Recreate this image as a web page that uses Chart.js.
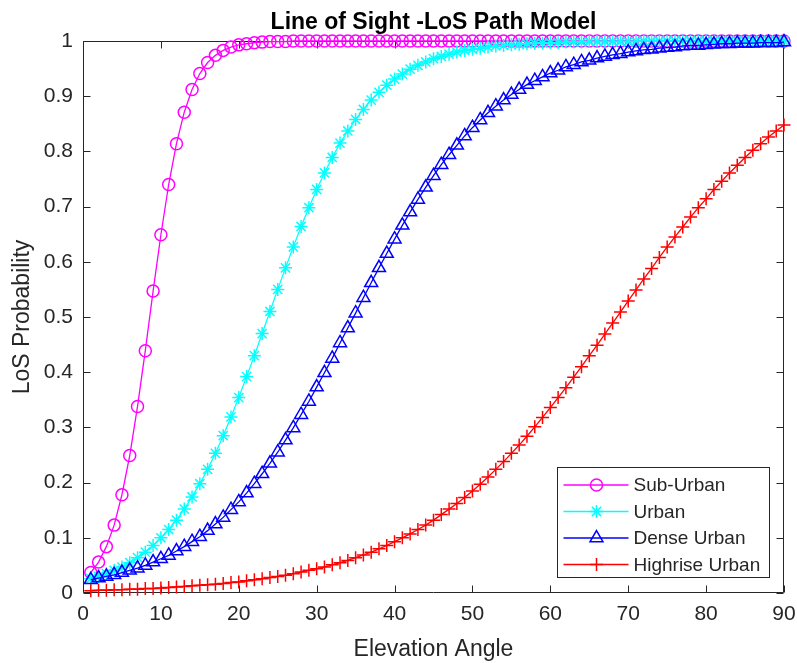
<!DOCTYPE html>
<html>
<head>
<meta charset="utf-8">
<title>Line of Sight -LoS Path Model</title>
<script src="https://cdn.jsdelivr.net/npm/chart.js@4/dist/chart.umd.min.js"></script>
<style>
  html, body { margin: 0; padding: 0; background: #ffffff; }
  canvas { display: block; }
</style>
</head>
<body>
<canvas id="chart" width="797" height="663"></canvas>
<script>
// Elevation angles in degrees
const angles = [
  1, 2, 3, 4, 5, 6, 7, 8, 9, 10, 11, 12, 13, 14, 15, 16, 17, 18, 19, 20,
  21, 22, 23, 24, 25, 26, 27, 28, 29, 30, 31, 32, 33, 34, 35, 36, 37, 38, 39, 40,
  41, 42, 43, 44, 45, 46, 47, 48, 49, 50, 51, 52, 53, 54, 55, 56, 57, 58, 59, 60,
  61, 62, 63, 64, 65, 66, 67, 68, 69, 70, 71, 72, 73, 74, 75, 76, 77, 78, 79, 80,
  81, 82, 83, 84, 85, 86, 87, 88, 89, 90
];

// LoS probability per environment
const subUrban = [
  0.037, 0.056, 0.084, 0.123, 0.178, 0.249, 0.338, 0.439, 0.547, 0.649,
  0.740, 0.814, 0.871, 0.912, 0.941, 0.961, 0.974, 0.983, 0.989, 0.993,
  0.995, 0.997, 0.998, 0.999, 0.999, 0.999, 1.000, 1.000, 1.000, 1.000,
  1.000, 1.000, 1.000, 1.000, 1.000, 1.000, 1.000, 1.000, 1.000, 1.000,
  1.000, 1.000, 1.000, 1.000, 1.000, 1.000, 1.000, 1.000, 1.000, 1.000,
  1.000, 1.000, 1.000, 1.000, 1.000, 1.000, 1.000, 1.000, 1.000, 1.000,
  1.000, 1.000, 1.000, 1.000, 1.000, 1.000, 1.000, 1.000, 1.000, 1.000,
  1.000, 1.000, 1.000, 1.000, 1.000, 1.000, 1.000, 1.000, 1.000, 1.000,
  1.000, 1.000, 1.000, 1.000, 1.000, 1.000, 1.000, 1.000, 1.000, 1.000
];

const urban = [
  0.026, 0.030, 0.035, 0.041, 0.047, 0.055, 0.064, 0.074, 0.086, 0.100,
  0.115, 0.132, 0.152, 0.174, 0.198, 0.224, 0.253, 0.285, 0.319, 0.354,
  0.392, 0.430, 0.470, 0.510, 0.550, 0.589, 0.627, 0.664, 0.698, 0.731,
  0.761, 0.789, 0.815, 0.837, 0.858, 0.876, 0.893, 0.907, 0.920, 0.931,
  0.940, 0.949, 0.956, 0.962, 0.968, 0.972, 0.976, 0.980, 0.983, 0.985,
  0.987, 0.989, 0.991, 0.992, 0.993, 0.994, 0.995, 0.996, 0.996, 0.997,
  0.997, 0.998, 0.998, 0.998, 0.999, 0.999, 0.999, 0.999, 0.999, 0.999,
  0.999, 1.000, 1.000, 1.000, 1.000, 1.000, 1.000, 1.000, 1.000, 1.000,
  1.000, 1.000, 1.000, 1.000, 1.000, 1.000, 1.000, 1.000, 1.000, 1.000
];

const denseUrban = [
  0.024, 0.027, 0.030, 0.033, 0.037, 0.041, 0.045, 0.050, 0.056, 0.062,
  0.068, 0.076, 0.084, 0.093, 0.102, 0.113, 0.125, 0.137, 0.151, 0.165,
  0.181, 0.198, 0.216, 0.235, 0.255, 0.277, 0.299, 0.323, 0.347, 0.373,
  0.399, 0.425, 0.453, 0.480, 0.507, 0.535, 0.562, 0.589, 0.615, 0.641,
  0.666, 0.690, 0.713, 0.735, 0.756, 0.776, 0.794, 0.811, 0.828, 0.843,
  0.857, 0.870, 0.882, 0.893, 0.903, 0.912, 0.921, 0.928, 0.935, 0.942,
  0.947, 0.953, 0.957, 0.962, 0.965, 0.969, 0.972, 0.975, 0.977, 0.980,
  0.982, 0.984, 0.985, 0.987, 0.988, 0.989, 0.991, 0.992, 0.992, 0.993,
  0.994, 0.995, 0.995, 0.996, 0.996, 0.996, 0.997, 0.997, 0.997, 0.998
];

const highriseUrban = [
  0.004, 0.005, 0.005, 0.006, 0.006, 0.007, 0.007, 0.008, 0.008, 0.009,
  0.010, 0.011, 0.012, 0.013, 0.014, 0.015, 0.016, 0.017, 0.019, 0.020,
  0.022, 0.024, 0.026, 0.028, 0.030, 0.032, 0.035, 0.038, 0.041, 0.044,
  0.047, 0.051, 0.055, 0.059, 0.064, 0.069, 0.074, 0.080, 0.086, 0.093,
  0.100, 0.107, 0.115, 0.123, 0.132, 0.142, 0.152, 0.162, 0.173, 0.185,
  0.197, 0.210, 0.224, 0.238, 0.253, 0.268, 0.284, 0.301, 0.318, 0.336,
  0.354, 0.372, 0.391, 0.410, 0.430, 0.449, 0.469, 0.489, 0.509, 0.529,
  0.549, 0.569, 0.588, 0.608, 0.627, 0.645, 0.663, 0.681, 0.698, 0.714,
  0.731, 0.746, 0.761, 0.775, 0.789, 0.802, 0.814, 0.826, 0.837, 0.848
];

const seriesNames = ['Sub-Urban', 'Urban', 'Dense Urban', 'Highrise Urban'];
const xTickValues = [0, 10, 20, 30, 40, 50, 60, 70, 80, 90];
const yTickValues = [0, 0.1, 0.2, 0.3, 0.4, 0.5, 0.6, 0.7, 0.8, 0.9, 1];

const FONT = '"Liberation Sans", Arial, Helvetica, sans-serif';
const AXIS_COLOR = '#262626';

const styles = [
  { color: '#ff00ff', pointStyle: 'circle',   radius: 6 },
  { color: '#00ffff', pointStyle: 'star',     radius: 6.5 },
  { color: '#0000ff', pointStyle: 'triangle', radius: 7.5 },
  { color: '#ff0000', pointStyle: 'cross',    radius: 6.5 }
];

const seriesValues = [subUrban, urban, denseUrban, highriseUrban];

const datasets = seriesValues.map((values, i) => ({
  label: seriesNames[i],
  data: angles.map((a, j) => ({ x: a, y: values[j] })),
  borderColor: styles[i].color,
  backgroundColor: 'rgba(0,0,0,0)',
  borderWidth: 1.3,
  pointStyle: styles[i].pointStyle,
  pointRadius: styles[i].radius,
  pointHoverRadius: styles[i].radius,
  pointBorderWidth: 1.5,
  pointBorderColor: styles[i].color,
  pointBackgroundColor: 'rgba(0,0,0,0)',
  tension: 0,
  clip: false,
  order: seriesValues.length - 1 - i
}));

// Box around the axes with inward tick marks on all four sides
const axesFrame = {
  id: 'axesFrame',
  beforeDatasetsDraw(chart) {
    const { ctx, chartArea: a, scales } = chart;
    const L = Math.round(a.left) + 0.5, R = Math.round(a.right) - 0.5;
    const T = Math.round(a.top) + 0.5, B = Math.round(a.bottom) - 0.5;
    const len = 7;
    ctx.save();
    ctx.strokeStyle = AXIS_COLOR;
    ctx.lineWidth = 1;
    ctx.beginPath();
    ctx.rect(L, T, R - L, B - T);
    xTickValues.forEach(v => {
      const px = Math.round(scales.x.getPixelForValue(v)) + 0.5;
      ctx.moveTo(px, B); ctx.lineTo(px, B - len);
      ctx.moveTo(px, T); ctx.lineTo(px, T + len);
    });
    yTickValues.forEach(v => {
      const py = Math.round(scales.y.getPixelForValue(v)) + 0.5;
      ctx.moveTo(L, py); ctx.lineTo(L + len, py);
      ctx.moveTo(R, py); ctx.lineTo(R - len, py);
    });
    ctx.stroke();
    ctx.restore();
  }
};

// Bold title centred over the plotting area
const plotTitle = {
  id: 'plotTitle',
  afterDraw(chart) {
    const { ctx, chartArea: a } = chart;
    ctx.save();
    ctx.fillStyle = '#000000';
    ctx.font = 'bold 23px ' + FONT;
    ctx.textAlign = 'center';
    ctx.textBaseline = 'alphabetic';
    ctx.fillText('Line of Sight -LoS Path Model', (a.left + a.right) / 2, 28.5);
    ctx.restore();
  }
};

// Boxed legend in the lower-right corner of the axes
const boxedLegend = {
  id: 'boxedLegend',
  afterDraw(chart) {
    const { ctx, chartArea: a } = chart;
    const boxW = 212, boxH = 110;
    const x0 = Math.round(a.right - 15 - boxW) + 0.5;
    const y0 = Math.round(a.bottom - 16 - boxH) + 0.5;
    ctx.save();
    ctx.fillStyle = '#ffffff';
    ctx.strokeStyle = AXIS_COLOR;
    ctx.lineWidth = 1;
    ctx.fillRect(x0, y0, boxW, boxH);
    ctx.strokeRect(x0, y0, boxW, boxH);
    chart.data.datasets.forEach((ds, i) => {
      const y = y0 + 17.5 + i * 26.5;
      const lx0 = x0 + 6, lx1 = x0 + 71, mx = x0 + 39;
      ctx.strokeStyle = ds.borderColor;
      ctx.lineWidth = ds.borderWidth;
      ctx.beginPath();
      ctx.moveTo(lx0, y); ctx.lineTo(lx1, y);
      ctx.stroke();
      ctx.fillStyle = 'rgba(0,0,0,0)';
      ctx.strokeStyle = ds.pointBorderColor;
      ctx.lineWidth = ds.pointBorderWidth;
      Chart.helpers.drawPoint(ctx, {
        pointStyle: ds.pointStyle, radius: ds.pointRadius, rotation: 0, borderWidth: ds.pointBorderWidth
      }, mx, y);
      ctx.fillStyle = AXIS_COLOR;
      ctx.font = '19px ' + FONT;
      ctx.textAlign = 'left';
      ctx.textBaseline = 'middle';
      ctx.fillText(ds.label, x0 + 76, y + 1);
    });
    ctx.restore();
  }
};

new Chart(document.getElementById('chart'), {
  type: 'line',
  data: { datasets },
  plugins: [axesFrame, plotTitle, boxedLegend],
  options: {
    responsive: false,
    animation: false,
    devicePixelRatio: 1,
    layout: { padding: { left: 0, top: 41, right: 13, bottom: 0 } },
    plugins: {
      legend: { display: false },
      title: { display: false },
      tooltip: { enabled: false }
    },
    scales: {
      x: {
        type: 'linear',
        min: 0,
        max: 90,
        afterBuildTicks: s => { s.ticks = xTickValues.map(v => ({ value: v })); },
        afterFit: s => { s.height = 70; s.paddingLeft = 0; s.paddingRight = 0; },
        grid: { display: false, drawTicks: false },
        border: { display: false },
        ticks: {
          padding: 9,
          color: AXIS_COLOR,
          font: { family: FONT, size: 21 },
          maxRotation: 0,
          callback: v => String(v)
        },
        title: {
          display: true,
          text: 'Elevation Angle',
          color: AXIS_COLOR,
          font: { family: FONT, size: 23 },
          padding: { top: 0, bottom: 0 }
        }
      },
      y: {
        type: 'linear',
        min: 0,
        max: 1,
        afterBuildTicks: s => { s.ticks = yTickValues.map(v => ({ value: v })); },
        afterFit: s => { s.width = 83; s.paddingTop = 0; s.paddingBottom = 0; },
        grid: { display: false, drawTicks: false },
        border: { display: false },
        ticks: {
          padding: 10,
          color: AXIS_COLOR,
          font: { family: FONT, size: 21 },
          callback: v => String(Math.round(v * 10) / 10)
        },
        title: {
          display: true,
          text: 'LoS Probability',
          color: AXIS_COLOR,
          font: { family: FONT, size: 23 },
          padding: { top: 9, bottom: 0 }
        }
      }
    }
  }
});
</script>
</body>
</html>
